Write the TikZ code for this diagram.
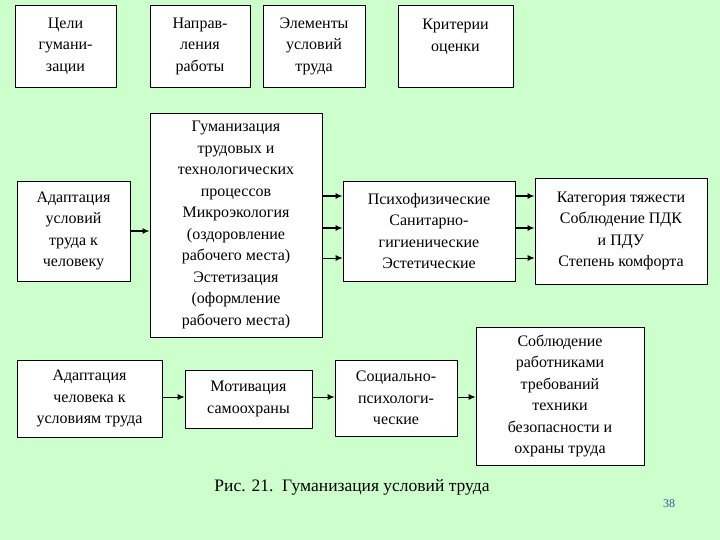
\documentclass[tikz,border=0pt]{standalone}
\usepackage{fontspec}
\setmainfont{Liberation Serif}
\newfontfamily\myserif{Liberation Serif}
\usetikzlibrary{arrows.meta}
\definecolor{bg}{HTML}{CCFFCC}
\definecolor{pg}{HTML}{3355AA}
\begin{document}
\begin{tikzpicture}[x=1pt,y=-1pt,
  bx/.style={draw=black,fill=white,line width=0.8pt,align=center,inner sep=0pt,font=\myserif\fontsize{16}{21.5}\selectfont},
  ar/.style={-{Latex[length=7pt,width=6pt]},line width=0.9pt},
  tk/.style={-{Latex[length=7pt,width=6pt]},line width=1.8pt}]
\fill[bg] (0,0) rectangle (720,540);
\useasboundingbox (0,0) rectangle (720,540);
\newcommand\bxn[6]{\node[bx,minimum width=#4-#2,minimum height=#5-#3] (#1) at ({(#2+#4)/2},{(#3+#5)/2}) {#6};}
\bxn{c}{15}{5}{116}{87}{Цели\\гумани-\\зации}
\bxn{n}{150}{5}{250}{87}{Направ-\\ления\\работы}
\bxn{e}{263}{5}{365}{87}{Элементы\\условий\\труда}
\bxn{k}{398}{5}{513}{87}{Критерии\\оценки\\\mbox{}}
\bxn{au}{17}{181}{130}{281}{Адаптация\\условий\\труда к\\человеку}
\bxn{g}{150}{113}{322}{337}{Гуманизация\\трудовых и\\технологических\\процессов\\Микроэкология\\(оздоровление\\рабочего места)\\Эстетизация\\(оформление\\рабочего места)}
\bxn{p}{343}{181}{515}{281}{Психофизические\\Санитарно-\\гигиенические\\Эстетические}
\bxn{kt}{535}{178}{707}{284}{Категория тяжести\\Соблюдение ПДК\\и ПДУ\\Степень комфорта}
\bxn{ac}{17}{360}{162}{437}{Адаптация\\человека к\\условиям труда}
\bxn{m}{185}{370}{312}{428}{Мотивация\\самоохраны}
\bxn{s}{335}{360}{457}{436}{Социально-\\психологи-\\ческие}
\bxn{sb}{476}{327}{644}{465}{Соблюдение\\работниками\\требований\\техники\\безопасности и\\охраны труда}
\draw[tk] (au.east) -- (g.west |- au.east);
\draw[tk] (g.east |- 0,196) -- (p.west |- 0,196);
\draw[tk] (g.east |- 0,228) -- (p.west |- 0,228);
\draw[ar] (g.east |- 0,258) -- (p.west |- 0,258);
\draw[tk] (p.east |- 0,196) -- (kt.west |- 0,196);
\draw[tk] (p.east |- 0,228) -- (kt.west |- 0,228);
\draw[ar] (p.east |- 0,258) -- (kt.west |- 0,258);
\draw[ar] (ac.east |- 0,397) -- (m.west |- 0,397);
\draw[ar] (m.east |- 0,397) -- (s.west |- 0,397);
\draw[ar] (s.east |- 0,397) -- (sb.west |- 0,397);
\node[font=\myserif\fontsize{17.5}{20}\selectfont] (cap) at (352,487) {Рис. 21.\ \ Гуманизация условий труда};
\node[font=\myserif\fontsize{12}{14}\selectfont,text=pg] (pn) at (669,504) {38};
\end{tikzpicture}
\end{document}
